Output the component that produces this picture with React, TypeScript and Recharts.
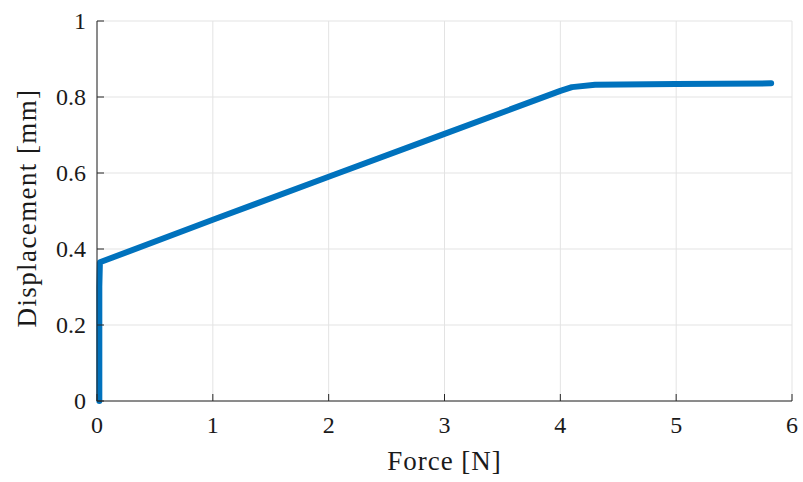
import React from 'react';
import { LineChart, Line, XAxis, YAxis, CartesianGrid } from 'recharts';

// Force [N] vs displacement [mm]
const force = [0.02, 0.02, 0.02, 0.025, 1, 2, 3, 4.0, 4.1, 4.3, 5.0, 5.82];
const displacement = [0, 0.1, 0.3, 0.365, 0.477, 0.59, 0.703, 0.816, 0.826, 0.832, 0.834, 0.836];

const xTicks = [0, 1, 2, 3, 4, 5, 6];
const yTicks = [0, 0.2, 0.4, 0.6, 0.8, 1];

const chartData = force.map((f, i) => ({ force: f, disp: displacement[i] }));

const FONT = '"Liberation Serif", "DejaVu Serif", serif';
const AXIS = '#262626';
const TEXT = '#1a1a1a';
const TICK_LEN = 7;
const TICK_GAP = 10;

const BottomTick = (props: any) => {
  const { x, y, payload } = props;
  const axisY = y - TICK_GAP;
  return (
    <g>
      <line x1={x} y1={axisY} x2={x} y2={axisY - TICK_LEN} stroke={AXIS} />
      <text x={x} y={y} dy={22} textAnchor="middle" fill={TEXT} fontFamily={FONT} fontSize={24}>
        {payload.value}
      </text>
    </g>
  );
};

const LeftTick = (props: any) => {
  const { x, y, payload } = props;
  const axisX = x + TICK_GAP;
  return (
    <g>
      <line x1={axisX} y1={y} x2={axisX + TICK_LEN} y2={y} stroke={AXIS} />
      <text x={x - 1} y={y} dy={8} textAnchor="end" fill={TEXT} fontFamily={FONT} fontSize={24}>
        {payload.value}
      </text>
    </g>
  );
};

const TopTick = (props: any) => {
  const { x, y } = props;
  const axisY = y + TICK_GAP;
  return <line x1={x} y1={axisY} x2={x} y2={axisY + TICK_LEN} stroke={AXIS} />;
};

const RightTick = (props: any) => {
  const { x, y } = props;
  const axisX = x - TICK_GAP;
  return <line x1={axisX} y1={y} x2={axisX - TICK_LEN} y2={y} stroke={AXIS} />;
};

const XLabel = (props: any) => {
  const vb = props.viewBox;
  return (
    <text x={vb.x + vb.width / 2} y={vb.y + 69} textAnchor="middle" fill={TEXT} fontFamily={FONT} fontSize={27} letterSpacing={1}>
      Force [N]
    </text>
  );
};

const YLabel = (props: any) => {
  const vb = props.viewBox;
  const cx = vb.x - 10;
  const cy = vb.y + vb.height / 2 - 3;
  return (
    <text
      x={cx}
      y={cy}
      transform={`rotate(-90 ${cx} ${cy})`}
      textAnchor="middle"
      dominantBaseline="central"
      fill={TEXT}
      fontFamily={FONT}
      fontSize={27}
      letterSpacing={1.4}
    >
      Displacement [mm]
    </text>
  );
};

const App: React.FC = () => {
  return (
    <div style={{ position: 'absolute', left: 0, top: 0, width: 803, height: 482, background: '#fff' }}>
      <LineChart
        width={803}
        height={482}
        data={chartData}
        margin={{ top: 21, right: 11, bottom: 31, left: 37 }}
      >
        <CartesianGrid xAxisId="x" yAxisId="y" stroke="#e3e3e3" strokeWidth={1} />
        <XAxis
          xAxisId="x"
          dataKey="force"
          type="number"
          domain={[0, 6]}
          ticks={xTicks}
          tickLine={false}
          tickSize={0}
          tickMargin={TICK_GAP}
          tick={<BottomTick />}
          axisLine={{ stroke: AXIS }}
          height={50}
          label={<XLabel />}
        />
        <XAxis
          xAxisId="top"
          orientation="top"
          dataKey="force"
          type="number"
          domain={[0, 6]}
          ticks={xTicks}
          tickLine={false}
          tickSize={0}
          tickMargin={TICK_GAP}
          tick={<TopTick />}
          axisLine={{ stroke: AXIS }}
          height={0}
        />
        <YAxis
          yAxisId="y"
          dataKey="disp"
          type="number"
          domain={[0, 1]}
          ticks={yTicks}
          tickLine={false}
          tickSize={0}
          tickMargin={TICK_GAP}
          tick={<LeftTick />}
          axisLine={{ stroke: AXIS }}
          width={60}
          label={<YLabel />}
        />
        <YAxis
          yAxisId="right"
          orientation="right"
          dataKey="disp"
          type="number"
          domain={[0, 1]}
          ticks={yTicks}
          tickLine={false}
          tickSize={0}
          tickMargin={TICK_GAP}
          tick={<RightTick />}
          axisLine={{ stroke: AXIS }}
          width={0}
        />
        <Line
          xAxisId="x"
          yAxisId="y"
          type="linear"
          dataKey="disp"
          stroke="#0072BD"
          strokeWidth={6}
          strokeLinejoin="round"
          strokeLinecap="round"
          dot={false}
          isAnimationActive={false}
        />
      </LineChart>
    </div>
  );
};

export default App;
